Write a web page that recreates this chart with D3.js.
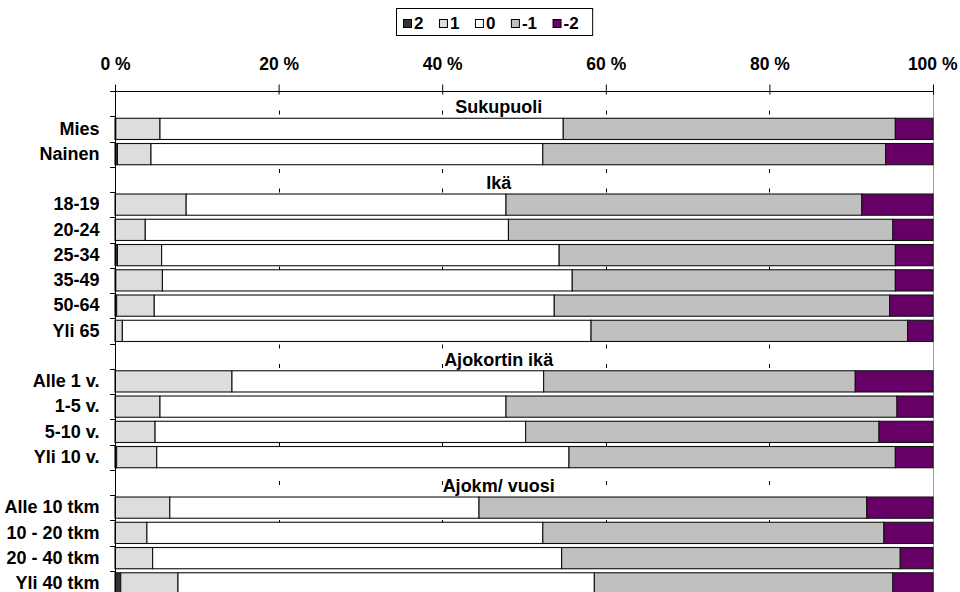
<!DOCTYPE html>
<html>
<head>
<meta charset="utf-8">
<script src="https://cdn.jsdelivr.net/npm/d3@7"></script>
<style>
  html, body { margin: 0; padding: 0; background: #fff; }
  svg { display: block; font-family: "Liberation Sans", Arial, sans-serif; font-weight: bold; }
</style>
</head>
<body>
<svg id="chart" width="960" height="592"></svg>
<script>
// Answer scale (2 … -2) and colours of each stacked segment
const seriesKeys = ["2", "1", "0", "-1", "-2"];
const seriesColors = ["#333333", "#dddddd", "#ffffff", "#c0c0c0", "#660066"];

// Background groups with their rows
const groupNames = ["Sukupuoli", "Ikä", "Ajokortin ikä", "Ajokm/ vuosi"];
const groupRows = [
  ["Mies", "Nainen"],
  ["18-19", "20-24", "25-34", "35-49", "50-64", "Yli 65"],
  ["Alle 1 v.", "1-5 v.", "5-10 v.", "Yli 10 v."],
  ["Alle 10 tkm", "10 - 20 tkm", "20 - 40 tkm", "Yli 40 tkm"]
];

// Shares (%) per answer, in row order
const share2  = [0.1, 0.3,  0,   0,   0.3, 0.1, 0.2, 0,    0,    0,    0,    0.2,  0,    0,    0,    0.7];
const share1  = [5.4, 4.1,  8.7, 3.7, 5.4, 5.7, 4.6, 0.9,  14.3, 5.5,  4.9,  4.9,  6.7,  3.9,  4.6,  7.0];
const share0  = [49.3, 47.9, 39.1, 44.4, 48.6, 50.1, 48.9, 57.3, 38.1, 42.3, 45.3, 50.4, 37.8, 48.4, 50.0, 50.9];
const shareM1 = [40.6, 41.9, 43.5, 47.0, 41.1, 39.5, 41.0, 38.7, 38.1, 47.8, 43.2, 39.9, 47.4, 41.7, 41.4, 36.5];
const shareM2 = [4.6, 5.8,  8.7, 4.9, 4.6, 4.6, 5.3, 3.1,  9.5,  4.4,  6.6,  4.6,  8.1,  6.0,  4.0,  4.9];

const xTicks = [0, 20, 40, 60, 80, 100];

// ---- build rows (a header row precedes each group) ----
const shares = [share2, share1, share0, shareM1, shareM2];
const rows = [];
let k = 0;
groupNames.forEach((g, gi) => {
  rows.push({ id: "h" + gi, header: g });
  groupRows[gi].forEach(name => {
    const rec = { id: "r" + k, label: name };
    seriesKeys.forEach((s, si) => rec[s] = shares[si][k]);
    rows.push(rec);
    k++;
  });
});
const dataRows = rows.filter(r => !r.header);

const svg = d3.select("#chart");
const plotLeft = 115, plotRight = 933, plotTop = 91, plotBottom = 596;

const x = d3.scaleLinear().domain([0, 100]).range([plotLeft, plotRight]);
const y = d3.scaleBand().domain(rows.map(r => r.id)).range([plotTop, plotBottom])
  .paddingInner(0.16).paddingOuter(0.08);
const step = y.step();
const bandTop = id => y(id) - (step - y.bandwidth()) / 2;

// dashed vertical gridlines behind the bars
svg.append("g").selectAll("line").data(xTicks.filter(t => t > 0 && t < 100)).join("line")
  .attr("x1", d => Math.round(x(d)) + 0.5).attr("x2", d => Math.round(x(d)) + 0.5)
  .attr("y1", plotTop + 19.5).attr("y2", 592)
  .attr("stroke", "#000").attr("stroke-width", 1)
  .attr("stroke-dasharray", "4,15.5");

// 100 % border line
svg.append("line")
  .attr("x1", Math.round(x(100)) + 0.5).attr("x2", Math.round(x(100)) + 0.5)
  .attr("y1", plotTop).attr("y2", 592)
  .attr("stroke", "#9a9a9a").attr("stroke-width", 1);

// stacked bars
const stacked = d3.stack().keys(seriesKeys)(dataRows);
const color = d3.scaleOrdinal().domain(seriesKeys).range(seriesColors);

svg.append("g").selectAll("g").data(stacked).join("g")
  .attr("fill", d => color(d.key))
  .selectAll("rect").data(d => d.filter(p => p[1] - p[0] > 0)).join("rect")
  .attr("x", p => x(p[0]))
  .attr("width", p => x(p[1]) - x(p[0]))
  .attr("y", p => y(p.data.id))
  .attr("height", y.bandwidth())
  .attr("stroke", "#111").attr("stroke-width", 1.1);

// top axis with percentage labels
const xAxis = d3.axisTop(x).tickValues(xTicks).tickSize(7).tickFormat(d => d + " %");
const gx = svg.append("g").attr("transform", `translate(0,${plotTop + 0.5})`).call(xAxis);
gx.select(".domain").attr("stroke", "#000").attr("d", `M${plotLeft},0H${plotRight}`);
gx.selectAll(".tick line").attr("y2", -7).attr("y1", 3).attr("stroke", "#000");
gx.selectAll(".tick text")
  .attr("y", -21.5)
  .attr("font-size", 17.5).attr("font-weight", "bold")
  .attr("font-family", "Liberation Sans, Arial, sans-serif")
  .attr("fill", "#000")
  .each(function (d) {
    const w = this.getComputedTextLength();
    const tx = x(d);
    if (tx + w / 2 > 957) d3.select(this).attr("text-anchor", "end").attr("x", 957 - tx);
  });

// left axis with row labels
const yAxis = d3.axisLeft(y).tickSize(0).tickFormat(id => {
  const r = rows.find(rr => rr.id === id);
  return r.header ? "" : r.label;
});
const gy = svg.append("g").attr("transform", `translate(${plotLeft + 0.5},0)`).call(yAxis);
gy.select(".domain").attr("stroke", "#000").attr("d", `M0,${plotTop}V592`);
gy.selectAll(".tick text")
  .attr("x", -16)
  .attr("font-size", 18).attr("font-weight", "bold")
  .attr("font-family", "Liberation Sans, Arial, sans-serif")
  .attr("fill", "#000");

// band boundary tick marks on the left axis
svg.append("g").selectAll("line").data(rows.map(r => bandTop(r.id))).join("line")
  .attr("x1", plotLeft - 5).attr("x2", plotLeft)
  .attr("y1", d => Math.round(d) + 0.5).attr("y2", d => Math.round(d) + 0.5)
  .attr("stroke", "#000");

// group headings inside their header rows
svg.append("g").selectAll("text").data(rows.filter(r => r.header)).join("text")
  .attr("x", x(46.9))
  .attr("y", r => bandTop(r.id) + step - 3)
  .attr("text-anchor", "middle")
  .attr("font-size", 18)
  .attr("fill", "#000")
  .text(r => r.header);

// legend
const lg = svg.append("g");
const lgBox = lg.append("rect")
  .attr("x", 396.5).attr("y", 8.5).attr("height", 27)
  .attr("fill", "#fff").attr("stroke", "#000");
let lx = 403;
seriesKeys.forEach((s, i) => {
  lg.append("rect").attr("x", lx + 0.5).attr("y", 19.5).attr("width", 8).attr("height", 8)
    .attr("fill", seriesColors[i]).attr("stroke", "#000");
  const t = lg.append("text").attr("x", lx + 11).attr("y", 29)
    .attr("font-size", 17).attr("fill", "#000").text(s);
  lx = lx + 11 + t.node().getComputedTextLength() + 15.5;
});
lgBox.attr("width", lx - 15.5 + 14 - 396.5);
</script>
</body>
</html>
